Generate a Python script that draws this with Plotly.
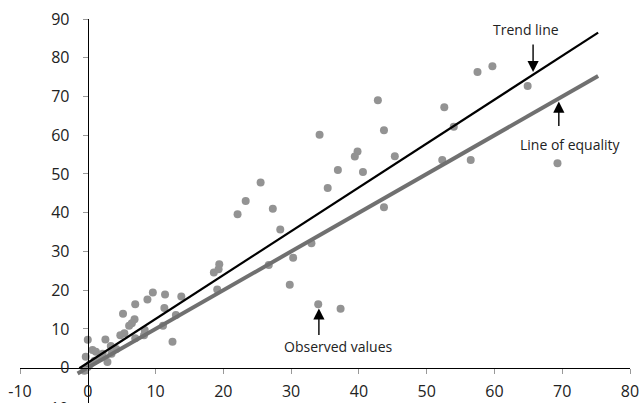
import plotly.graph_objects as go

# Observed values (x, y)
obs_x = [57.5, 59.7, 64.9, 52.6, 54.0, 52.3, 56.5, 69.3, 43.7, 45.3, 42.8, 34.2, 39.8, 39.4,
         36.9, 40.6, 25.5, 35.4, 27.3, 43.7, 28.4, 33.0, 23.3, 22.1, 30.3, 26.7, 19.4, 18.6,
         19.3, 19.1, 29.8, 13.8, 11.4, 9.6, 8.8, 7.0, 5.2, 6.9, 11.3, 34.0, 37.3, 13.0, 11.1,
         6.5, 6.1, 5.4, 4.8, 8.3, 7.0, 8.4, 12.5, 2.6, 0.0, 3.4, 2.9, 0.7, 1.2, -0.3,
         0.3, 1.0, 1.8, 2.2, 3.5, 4.2, 0.0, -0.5]
obs_y = [76.3, 77.8, 72.7, 67.2, 62.2, 53.6, 53.6, 52.8, 61.3, 54.6, 69.0, 60.1, 55.8, 54.5,
         51.0, 50.5, 47.8, 46.4, 41.0, 41.4, 35.7, 32.1, 43.0, 39.6, 28.4, 26.5, 26.7, 24.6,
         25.4, 20.2, 21.4, 18.4, 18.9, 19.4, 17.6, 16.4, 13.9, 12.5, 15.4, 16.4, 15.2, 13.6, 10.8,
         11.5, 10.8, 8.9, 8.4, 8.4, 7.6, 9.7, 6.7, 7.3, 7.2, 5.6, 1.5, 4.6, 4.1, 2.8,
         0.8, 1.8, 2.5, 3.6, 3.6, 4.8, 0.2, -0.8]

# Line end points
trend_x = [-1.24, 75.3]
trend_y = [-0.15, 86.5]
equal_x = [-1.5, 75.3]
equal_y = [-1.5, 75.3]

x_ticks = [-10, 0, 10, 20, 30, 40, 50, 60, 70, 80]
y_ticks = [0, 10, 20, 30, 40, 50, 60, 70, 80, 90]

FONT = "Open Sans"

fig = go.Figure()
fig.add_trace(go.Scatter(x=obs_x, y=obs_y, mode="markers",
                         marker=dict(size=8, color="#939393", line=dict(width=0)),
                         showlegend=False, hoverinfo="skip"))
fig.add_trace(go.Scatter(x=equal_x, y=equal_y, mode="lines",
                         line=dict(color="#707070", width=4), showlegend=False))
fig.add_trace(go.Scatter(x=trend_x, y=trend_y, mode="lines",
                         line=dict(color="#000000", width=2.2), showlegend=False))

ymin = -9.11
fig.update_layout(
    width=641, height=403,
    margin=dict(l=20, r=11, t=19, b=0, autoexpand=False),
    paper_bgcolor="white", plot_bgcolor="white",
    font=dict(family=FONT, size=17, color="#222222"),
    xaxis=dict(range=[-10, 80], tickvals=x_ticks, ticktext=[str(v) for v in x_ticks],
               showgrid=False, zeroline=False, showline=True, linecolor="black", linewidth=1.3,
               ticks="outside", ticklen=5, tickcolor="#999999", tickwidth=1,
               anchor="free", position=(0 - ymin) / (90 - ymin),
               ticklabelstandoff=4, automargin=False,
               tickfont=dict(family=FONT, size=16, color="#222222")),
    yaxis=dict(range=[ymin, 90], tickvals=y_ticks, ticktext=[str(v) for v in y_ticks],
               showgrid=False, zeroline=False, showline=True, linecolor="black", linewidth=1.3,
               ticks="outside", ticklen=5, tickcolor="#999999", tickwidth=1,
               anchor="free", position=10 / 90,
               ticklabelstandoff=10, automargin=False,
               tickfont=dict(family=FONT, size=16, color="#222222")),
)

ann = []
# cut-off -10 label of the y axis (lies below the visible canvas edge)
ann.append(dict(text="-10", x=(70 - 20) / 610, y=(-10.3 - ymin) / (90 - ymin),
                xref="paper", yref="paper", xanchor="right", yanchor="middle",
                showarrow=False, font=dict(family=FONT, size=16, color="#222222")))
# text labels
ann.append(dict(text="Trend line", x=64.6, y=87.2, xref="x", yref="y", showarrow=False,
                xanchor="center", yanchor="middle", font=dict(family=FONT, size=14, color="#222222")))
ann.append(dict(text="Line of equality", x=71.2, y=57.7, xref="x", yref="y", showarrow=False,
                xanchor="center", yanchor="middle", font=dict(family=FONT, size=14, color="#222222")))
ann.append(dict(text="Observed values", x=37.0, y=5.4, xref="x", yref="y", showarrow=False,
                xanchor="center", yanchor="middle", font=dict(family=FONT, size=14, color="#222222")))
# arrows
for tx, ty, ay in [(65.7, 76.3, -29), (69.5, 68.7, 26), (34.1, 15.3, 28)]:
    ann.append(dict(text="", x=tx, y=ty, xref="x", yref="y", ax=0, ay=ay,
                    showarrow=True, arrowhead=2, arrowsize=1.6, arrowwidth=1.4,
                    arrowcolor="black", standoff=0))
fig.update_layout(annotations=ann)

fig.write_html("out.html", config={"displayModeBar": False},
               post_script="document.body.style.margin='0px';document.body.style.overflow='hidden';")
